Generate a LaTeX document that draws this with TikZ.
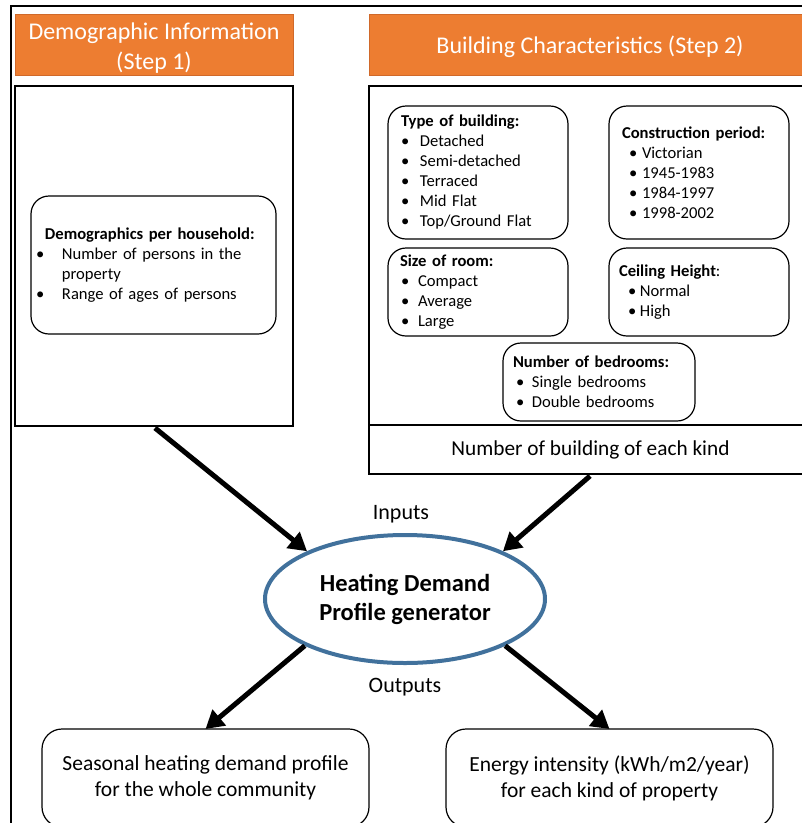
\documentclass[tikz,border=0pt]{standalone}
\usepackage{fontspec}
\setmainfont{Carlito}
\usetikzlibrary{arrows.meta,shapes.geometric}
\definecolor{hdrorange}{HTML}{ED7D31}
\definecolor{hdrborder}{HTML}{D0692A}
\definecolor{ellblue}{HTML}{41719C}
\newcommand\bitem[3]{\makebox[#2pt][l]{\hspace*{#1pt}•}#3}
\begin{document}
\begin{tikzpicture}[x=1pt,y=-1pt,
  hdr/.style={fill=hdrorange, draw=hdrborder, line width=0.8pt,
    anchor=north west, inner sep=0pt, outer sep=0pt, minimum height=61pt},
  hdrtext/.style={text=white, font=\fontsize{24}{30}\selectfont, align=center, inner sep=0pt},
  pane/.style={draw, line width=1.3pt, anchor=north west, inner sep=0pt, outer sep=0pt},
  rbox/.style={draw, line width=1.2pt, rounded corners=18pt, anchor=north west,
    align=left, inner xsep=13pt, inner ysep=0pt, outer sep=0pt,
    font=\fontsize{16.6}{20}\selectfont},
  obox/.style={draw, line width=1.2pt, rounded corners=20pt, anchor=north west,
    align=center, inner sep=0pt, outer sep=0pt,
    font=\fontsize{21.5}{26}\selectfont, minimum width=327pt, minimum height=98pt},
  lbl/.style={font=\fontsize{22}{26}\selectfont, inner sep=0pt},
  arr/.style={line width=5pt, -{Triangle[length=18pt,width=20pt]}}
]
\useasboundingbox (0,0) rectangle (802,823);
\clip (0,0) rectangle (802,823);
% outer frame
\draw[line width=2.2pt] (11,840) -- (11,6) -- (820,6);
% headers
\node[hdr, minimum width=278pt] (h1) at (15,14) {};
\node[hdrtext] (h1t) at (154,48) {Demographic Information\\(Step 1)};
\node[hdr, minimum width=442pt] (h2) at (369,14) {};
\node[hdrtext] (h2t) at (590,47) {Building Characteristics (Step 2)};
% panes
\node[pane, minimum width=278pt, minimum height=340pt] (p1) at (15,86) {};
\node[pane, minimum width=443pt, minimum height=339pt] (p2) at (369,86) {};
\node[pane, minimum width=443pt, minimum height=49pt, font=\fontsize{21.3}{25}\selectfont] (p3) at (369,425) {Number of building of each kind};
% demographics box
\node[rbox, inner xsep=14pt, text width=217pt, minimum height=138pt] (demo) at (31,196)
  {\textbf{Demographics per household:}\\
   \bitem{-9}{17}{Number of persons in the}\\
   \hspace*{17pt}property\\
   \bitem{-9}{17}{Range of ages of persons}};
% building boxes
\node[rbox, text width=154pt, minimum height=133pt] (type) at (388,106)
  {\textbf{Type of building:}\\
   \bitem{0}{19}{Detached}\\
   \bitem{0}{19}{Semi-detached}\\
   \bitem{0}{19}{Terraced}\\
   \bitem{0}{19}{Mid Flat}\\
   \bitem{0}{19}{Top/Ground Flat}};
\node[rbox, text width=154pt, minimum height=133pt] (period) at (609,106)
  {\textbf{Construction period:}\\
   \bitem{7}{20}{Victorian}\\
   \bitem{7}{20}{1945-1983}\\
   \bitem{7}{20}{1984-1997}\\
   \bitem{7}{20}{1998-2002}};
\node[rbox, inner xsep=12pt, text width=156pt, minimum height=88pt] (size) at (388,248)
  {\textbf{Size of room:}\\
   \bitem{1}{18}{Compact}\\
   \bitem{1}{18}{Average}\\
   \bitem{1}{18}{Large}};
\node[rbox, inner xsep=10pt, text width=160pt, minimum height=88pt] (ceil) at (609,248)
  {\textbf{Ceiling Height}:\\
   \bitem{9}{21}{Normal}\\
   \bitem{9}{21}{High}};
\node[rbox, inner xsep=10pt, text width=172pt, minimum height=78pt] (bed) at (503,343)
  {\textbf{Number of bedrooms:}\\
   \bitem{3}{19}{Single bedrooms}\\
   \bitem{3}{19}{Double bedrooms}};
% generator
\node[ellipse, draw=ellblue, line width=4pt, minimum width=280pt, minimum height=128pt,
  inner sep=0pt, font=\bfseries\fontsize{24.5}{29}\selectfont, align=center] (gen) at (405,599)
  {Heating Demand\\Profile generator};
\node[lbl] (inl) at (401,514) {Inputs};
\node[lbl] (outl) at (405,687) {Outputs};
% outputs
\node[obox] (out1) at (42,729) {Seasonal heating demand profile\\for the whole community};
\node[obox] (out2) at (446,729) {Energy intensity (kWh/m2/year)\\for each kind of property};
% arrows
\coordinate (a1) at (155,428);
\coordinate (a2) at (590,476);
\draw[arr] (a1) -- (gen.154);
\draw[arr] (a2) -- (gen.26);
\draw[arr] (gen.205) -- (out1.north);
\draw[arr] (gen.335) -- (out2.north);
\end{tikzpicture}
\end{document}
